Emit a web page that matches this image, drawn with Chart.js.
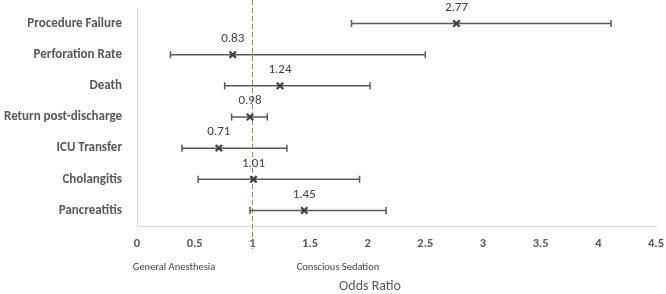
<!DOCTYPE html>
<html>
<head>
<meta charset="utf-8">
<script src="https://cdn.jsdelivr.net/npm/chart.js@4"></script>
<style>
  body { margin: 0; background: #fff; }
  #wrap { width: 666px; height: 294px; }
</style>
</head>
<body>
<div id="wrap"><canvas id="forest"></canvas></div>
<script>
// Forest plot data
const categories = ["Procedure Failure", "Perforation Rate", "Death", "Return post-discharge", "ICU Transfer", "Cholangitis", "Pancreatitis"];
const oddsRatios = [2.77, 0.83, 1.24, 0.98, 0.71, 1.01, 1.45];
const ciLower = [1.86, 0.29, 0.76, 0.82, 0.39, 0.53, 0.98];
const ciUpper = [4.11, 2.50, 2.02, 1.13, 1.30, 1.93, 2.16];
const xTickLabels = ["0", "0.5", "1", "1.5", "2", "2.5", "3", "3.5", "4", "4.5"];
const refValue = 1;

const FONT = "Carlito, Lato, 'Liberation Sans', sans-serif";

// Whiskers + reference line + value labels
const forestPlugin = {
    id: "forest",
    beforeDatasetsDraw(chart) {
        const ctx = chart.ctx;
        const xs = chart.scales.x;
        const ys = chart.scales.y;

        // dashed reference line at OR = 1
        const rx = Math.round(xs.getPixelForValue(refValue)) + 0.5;
        ctx.save();
        ctx.strokeStyle = "#8e9c4c";
        ctx.lineWidth = 1.1;
        ctx.setLineDash([5, 3]);
        ctx.beginPath();
        ctx.moveTo(rx, 0);
        ctx.lineTo(rx, 249);
        ctx.stroke();
        ctx.restore();

        // confidence intervals
        ctx.save();
        ctx.strokeStyle = "#595959";
        ctx.lineWidth = 1.5;
        categories.forEach((c, i) => {
            const y = ys.getPixelForValue(i);
            const x1 = xs.getPixelForValue(ciLower[i]);
            const x2 = xs.getPixelForValue(ciUpper[i]);
            ctx.beginPath();
            ctx.moveTo(x1, y); ctx.lineTo(x2, y);
            ctx.moveTo(x1, y - 3.5); ctx.lineTo(x1, y + 3.5);
            ctx.moveTo(x2, y - 3.5); ctx.lineTo(x2, y + 3.5);
            ctx.stroke();
        });
        ctx.restore();
    },
    afterDatasetsDraw(chart) {
        const ctx = chart.ctx;
        const xs = chart.scales.x;
        const ys = chart.scales.y;
        ctx.save();
        ctx.fillStyle = "#404040";
        ctx.font = "13px " + FONT;
        ctx.textAlign = "center";
        ctx.textBaseline = "middle";
        oddsRatios.forEach((v, i) => {
            ctx.fillText(v.toFixed(2), xs.getPixelForValue(v), ys.getPixelForValue(i) - 16);
        });

        // side captions and axis title
        ctx.font = "10.5px " + FONT;
        ctx.fillText("General Anesthesia", 174, 267);
        ctx.fillText("Conscious Sedation", 338, 267);
        ctx.fillStyle = "#595959";
        ctx.font = "14px " + FONT;
        ctx.fillText("Odds Ratio", 370, 286);
        ctx.restore();
    }
};

const ctx = document.getElementById("forest").getContext("2d");

new Chart(ctx, {
    type: "scatter",
    data: {
        datasets: [{
            data: oddsRatios.map((v, i) => ({ x: v, y: categories[i] })),
            pointStyle: "crossRot",
            radius: 4.5,
            borderWidth: 2.2,
            borderColor: "#404040",
            backgroundColor: "#404040"
        }]
    },
    options: {
        responsive: true,
        maintainAspectRatio: false,
        animation: false,
        layout: { padding: { top: 8, right: 10, left: 0, bottom: 0 } },
        plugins: {
            legend: { display: false },
            tooltip: { enabled: false }
        },
        scales: {
            x: {
                type: "linear",
                min: 0,
                max: 4.5,
                afterFit(scale) {
                    scale.height = 68;
                    scale.paddingLeft = 0;
                    scale.paddingRight = 0;
                },
                afterBuildTicks(scale) {
                    scale.ticks = xTickLabels.map(t => ({ value: parseFloat(t) }));
                },
                ticks: {
                    callback: (v, i) => xTickLabels[i],
                    color: "#595959",
                    font: { family: FONT, size: 12.5, weight: "bold" },
                    padding: 10,
                    maxRotation: 0
                },
                grid: { drawOnChartArea: false, drawTicks: false },
                border: { display: true, color: "#d9d9d9", width: 1 }
            },
            y: {
                type: "category",
                labels: categories,
                offset: true,
                afterFit(scale) {
                    scale.width = 137;
                    scale.paddingTop = 0;
                    scale.paddingBottom = 0;
                },
                ticks: {
                    color: "#595959",
                    font: { family: FONT, size: 13, weight: "bold" },
                    padding: 15
                },
                grid: { drawOnChartArea: false, drawTicks: false },
                border: { display: true, color: "#d9d9d9", width: 1 }
            }
        }
    },
    plugins: [forestPlugin]
});
</script>
</body>
</html>
